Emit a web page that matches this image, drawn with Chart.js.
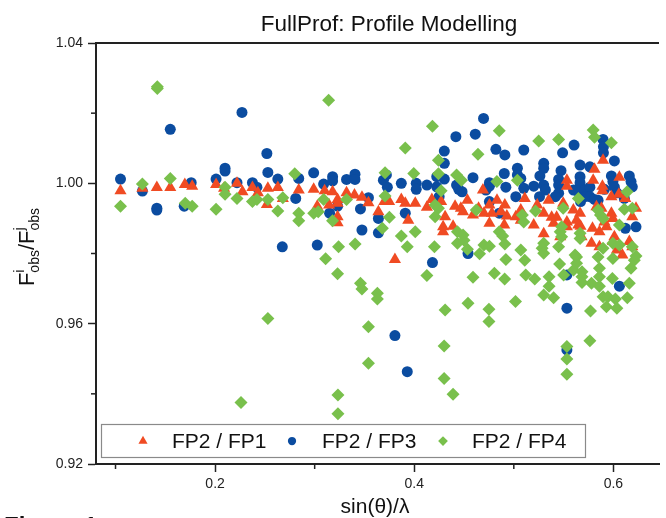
<!DOCTYPE html>
<html>
<head>
<meta charset="utf-8">
<script src="https://cdn.jsdelivr.net/npm/chart.js@4/dist/chart.umd.min.js"></script>
<style>
  html, body { margin: 0; padding: 0; background: #fff; }
  #wrap { width: 666px; height: 518px; position: relative; }
</style>
</head>
<body>
<div id="wrap"><canvas id="chart" width="666" height="518"></canvas></div>
<script>
// FP2 / FP1 (red triangles)
const fp1X = [0.105, 0.127, 0.1415, 0.155, 0.1696, 0.177, 0.201, 0.209, 0.222, 0.2275, 0.2375, 0.243, 0.252, 0.253, 0.263, 0.268,
  0.284, 0.299, 0.310, 0.318, 0.323, 0.323, 0.332, 0.340, 0.3475, 0.354, 0.3026, 0.3145, 0.323, 0.323, 0.364, 0.370, 0.3747, 0.387, 0.391, 0.401, 0.394, 0.3806,
  0.4127, 0.4177, 0.427, 0.441, 0.4468, 0.4534, 0.449, 0.459, 0.4646, 0.469, 0.470, 0.4755, 0.4831, 0.478, 0.487, 0.491, 0.493, 0.4755, 0.4904, 0.502, 0.431, 0.429, 0.429, 0.439,
  0.5533, 0.5533, 0.511, 0.535, 0.5235, 0.5496, 0.5598, 0.530, 0.538, 0.543, 0.5665, 0.520, 0.540, 0.5533, 0.5533, 0.563, 0.5648, 0.567, 0.530, 0.5466, 0.568, 0.507, 0.507,
  0.5896, 0.581, 0.5797, 0.606, 0.589, 0.589, 0.598, 0.6055, 0.612, 0.6227, 0.619, 0.583, 0.588, 0.598, 0.5995, 0.579, 0.586, 0.593, 0.591, 0.601, 0.5995, 0.578, 0.586, 0.616, 0.619, 0.6035, 0.609];
const fp1Y = [0.9979, 0.9986, 0.9988, 0.9988, 0.9997, 0.9992, 0.9997, 0.9986, 1.0000, 0.9976, 0.9988, 0.9973, 0.9940, 0.9986, 0.9988, 0.9957,
  0.9981, 0.9983, 0.9979, 0.9976, 0.9954, 0.9943, 0.9973, 0.9967, 0.9960, 0.9945, 0.9935, 0.9938, 0.9905, 0.9888, 0.9919, 0.9948, 0.9948, 0.9954, 0.9943, 0.9943, 0.9895, 0.9783,
  0.9932, 0.9954, 0.9948, 0.9935, 0.9929, 0.9952, 0.9919, 0.9910, 0.9929, 0.9981, 0.9915, 0.9938, 0.9952, 0.9915, 0.9919, 0.9938, 0.9907, 0.9886, 0.9881, 0.9905, 0.9905, 0.9876, 0.9862, 0.9878,
  1.0009, 0.9992, 0.9957, 0.9952, 0.9938, 0.9943, 0.9924, 0.9915, 0.9903, 0.9903, 0.9915, 0.9881, 0.9886, 0.9890, 0.9876, 0.9895, 0.9881, 0.9878, 0.9856, 0.9848, 0.9848, 0.9924, 0.9895,
  1.0066, 1.0040, 1.0009, 1.0017, 0.9992, 0.9979, 0.9962, 0.9969, 0.9957, 0.9929, 0.9905, 0.9933, 0.9929, 0.9915, 0.9900, 0.9872, 0.9862, 0.9876, 0.9890, 0.9848, 0.9834, 0.9829, 0.9819, 0.9834, 0.9819, 0.9810, 0.9796];

// FP2 / FP3 (blue circles)
const fp3X = [0.105, 0.155, 0.227, 0.127, 0.1415, 0.1415, 0.176, 0.169, 0.201, 0.210, 0.210, 0.222, 0.2375, 0.242, 0.252, 0.253, 0.263, 0.2675,
  0.299, 0.284, 0.309, 0.318, 0.318, 0.332, 0.3405, 0.3405, 0.281, 0.323, 0.315, 0.346, 0.354, 0.369, 0.373, 0.372, 0.387, 0.402, 0.402, 0.364, 0.3475, 0.364, 0.3026, 0.391,
  0.4183, 0.454, 0.3806, 0.393, 0.5533, 0.5533, 0.606, 0.5533,
  0.4696, 0.4418, 0.4613, 0.4302, 0.4302, 0.482, 0.491, 0.4904, 0.459, 0.4127, 0.4226, 0.4302, 0.4226, 0.4425, 0.4447, 0.448, 0.4755, 0.4755, 0.472, 0.492, 0.5036, 0.5036, 0.502, 0.425, 0.4755, 0.4854,
  0.5605, 0.549, 0.510, 0.530, 0.530, 0.5474, 0.5665, 0.5262, 0.507, 0.545, 0.545, 0.5665, 0.5665, 0.520, 0.530, 0.5317, 0.510, 0.545, 0.560, 0.563, 0.5714, 0.5714, 0.5258, 0.5417, 0.567,
  0.5896, 0.590, 0.590, 0.601, 0.5764, 0.598, 0.5995, 0.616, 0.6177, 0.619, 0.5764, 0.591, 0.601, 0.6035, 0.5764, 0.581, 0.5846, 0.611, 0.612, 0.6227];
const fp3Y = [1.0012, 1.0154, 1.0202, 0.9978, 0.9929, 0.9924, 1.0002, 0.9935, 1.0012, 1.0043, 1.0035, 1.0002, 1.0002, 0.9989, 1.0085, 1.0031, 1.0012, 0.9819,
  1.0030, 1.0014, 0.9998, 1.0019, 1.0007, 1.0011, 1.0026, 1.0011, 0.9957, 0.9935, 0.9915, 0.9927, 0.9959, 1.0009, 0.9989, 1.0024, 1.0000, 1.0000, 0.9983, 0.9900, 0.9867, 0.9859, 0.9824, 0.9915,
  0.9774, 0.9800, 0.9566, 0.9463, 0.9644, 0.9525, 0.9707, 0.9739,
  1.0185, 1.0133, 1.0140, 1.0092, 1.0057, 1.0097, 1.0081, 1.0028, 1.0016, 0.9995, 1.0019, 1.0012, 0.9990, 0.9995, 0.9983, 0.9976, 1.0002, 0.9992, 0.9981, 0.9989, 1.0043, 1.0024, 0.9962, 0.9962, 0.9948, 0.9915,
  1.0109, 1.0087, 1.0095, 1.0057, 1.0043, 1.0036, 1.0052, 1.0021, 1.0014, 1.0011, 0.9995, 1.0019, 1.0002, 0.9992, 0.9995, 0.9981, 0.9986, 0.9972, 0.9981, 0.9979, 0.9981, 0.9962, 0.9962, 0.9962, 0.9948,
  1.0125, 1.0104, 1.0087, 1.0064, 1.0047, 1.0021, 1.0005, 1.0021, 1.0005, 0.9990, 0.9989, 0.9983, 0.9989, 0.9973, 0.9962, 0.9954, 0.9952, 0.9957, 0.9872, 0.9876];

// FP2 / FP4 (green diamonds)
const fp4X = [0.142, 0.142, 0.226, 0.253, 0.314, 0.105, 0.127, 0.155, 0.170, 0.177, 0.201, 0.210, 0.210, 0.222, 0.2375, 0.242, 0.253, 0.263, 0.268, 0.280,
  0.391, 0.284, 0.284, 0.299, 0.3036, 0.309, 0.318, 0.332, 0.3707, 0.3707, 0.375, 0.368, 0.387, 0.393, 0.3995, 0.401, 0.324, 0.3406, 0.311,
  0.323, 0.346, 0.3475, 0.363, 0.363, 0.354, 0.354, 0.3234, 0.3234, 0.4127, 0.431, 0.430, 0.430, 0.439, 0.454, 0.459, 0.475, 0.475, 0.4805, 0.4908, 0.492, 0.5017, 0.511, 0.512, 0.521, 0.530, 0.540, 0.5354, 0.5354, 0.546, 0.550,
  0.5533, 0.5533, 0.5533, 0.5764, 0.577, 0.563, 0.563, 0.560, 0.5685, 0.5685, 0.5685, 0.578, 0.586, 0.586, 0.586, 0.5896, 0.5945, 0.593, 0.599, 0.602, 0.6035, 0.5995, 0.614, 0.616, 0.6177, 0.621, 0.5846,
  0.4183, 0.4854, 0.464, 0.4243, 0.4243, 0.4425, 0.4474, 0.483, 0.5036, 0.427, 0.421, 0.4243, 0.421, 0.4623, 0.4434, 0.449, 0.4434, 0.450, 0.4203, 0.4534, 0.470, 0.4755, 0.4656, 0.4854, 0.4888, 0.491, 0.507,
  0.525, 0.545, 0.5648, 0.5218, 0.5496, 0.5086, 0.510, 0.548, 0.5466, 0.548, 0.5665, 0.5665, 0.530, 0.5284, 0.530, 0.545, 0.5615,
  0.5797, 0.581, 0.598, 0.6137, 0.611, 0.619, 0.5846, 0.587, 0.5896, 0.606, 0.5995, 0.606, 0.619, 0.5896, 0.6227];
const fp4Y = [1.0275, 1.0270, 0.9375, 0.9615, 1.0237, 0.9935, 0.9998, 1.0014, 0.9943, 0.9935, 0.9926, 0.9989, 0.9969, 0.9957, 0.9948, 0.9954, 0.9954, 0.9921, 0.9959, 1.0027,
  1.0101, 0.9915, 0.9893, 0.9915, 0.9919, 0.9954, 0.9893, 0.9954, 1.0030, 0.9964, 0.9903, 0.9872, 0.9850, 0.9819, 1.0028, 0.9862, 0.9819, 0.9827, 0.9785,
  0.9742, 0.9715, 0.9699, 0.9687, 0.9670, 0.9591, 0.9487, 0.9397, 0.9343, 0.9737, 0.9639, 0.9536, 0.9444, 0.9399, 0.9658, 0.9732, 0.9641, 0.9606, 0.9744, 0.9727, 0.9783, 0.9663, 0.9781, 0.9739, 0.9727, 0.9682, 0.9674, 0.9734, 0.9707, 0.9770, 0.9739,
  0.9535, 0.9499, 0.9456, 0.9551, 0.9636, 0.9790, 0.9772, 0.9753, 0.9748, 0.9734, 0.9717, 0.9715, 0.9758, 0.9734, 0.9707, 0.9677, 0.9677, 0.9648, 0.9729, 0.9670, 0.9644, 0.9786, 0.9674, 0.9715, 0.9758, 0.9781, 0.9790,
  1.0163, 1.0150, 1.0083, 1.0066, 1.0027, 1.0024, 1.0009, 1.0005, 1.0009, 0.9979, 0.9938, 0.9929, 0.9905, 0.9924, 0.9862, 0.9853, 0.9829, 0.9838, 0.9819, 0.9812, 0.9824, 0.9821, 0.9799, 0.9862, 0.9850, 0.9827, 0.9810,
  1.0121, 1.0125, 0.9957, 0.9921, 0.9929, 0.9910, 0.9890, 0.9876, 0.9862, 0.9848, 0.9858, 0.9843, 0.9829, 0.9815, 0.9801, 0.9819, 0.9796,
  1.0152, 1.0131, 1.0116, 0.9976, 0.9926, 0.9929, 0.9924, 0.9910, 0.9900, 0.9881, 0.9829, 0.9824, 0.9819, 0.9815, 0.9793];

const seriesNames = ['FP2 / FP1', 'FP2 / FP3', 'FP2 / FP4'];
const xTicks = [0.1, 0.2, 0.3, 0.4, 0.5, 0.6];
const xLabels = ['', '0.2', '', '0.4', '', '0.6'];
const yTicks = [0.92, 0.94, 0.96, 0.98, 1.00, 1.02, 1.04];
const yLabels = ['0.92', '', '0.96', '', '1.00', '', '1.04'];

const RED = '#F04B23';
const BLUE = '#0B4CA0';
const GREEN = '#79C04C';
const AXIS = '#222';

function toPoints(xs, ys) {
    return xs.map((x, i) => ({ x: x, y: ys[i] }));
}

const pointStyles = [
    { style: 'triangle', radius: 7, color: RED },
    { style: 'circle', radius: 5.5, color: BLUE },
    { style: 'rectRot', radius: 6.5, color: GREEN }
];

// minor ticks, frame top, titles and the boxed legend
const decorations = {
    id: 'decorations',
    afterDraw(chart) {
        const ctx = chart.ctx;
        const area = chart.chartArea;
        const xs = chart.scales.x;
        const ys = chart.scales.y;
        ctx.save();

        // top frame line
        ctx.strokeStyle = AXIS;
        ctx.lineWidth = 2;
        ctx.beginPath();
        ctx.moveTo(area.left - 1, area.top);
        ctx.lineTo(area.right, area.top);
        ctx.stroke();

        // minor ticks
        ctx.lineWidth = 1.5;
        xTicks.forEach((v, i) => {
            if (xLabels[i]) return;
            const px = xs.getPixelForValue(v);
            ctx.beginPath();
            ctx.moveTo(px, area.bottom);
            ctx.lineTo(px, area.bottom + 5);
            ctx.stroke();
        });
        yTicks.forEach((v, i) => {
            if (yLabels[i]) return;
            const py = ys.getPixelForValue(v);
            ctx.beginPath();
            ctx.moveTo(area.left, py);
            ctx.lineTo(area.left - 5, py);
            ctx.stroke();
        });

        // title
        ctx.fillStyle = '#111';
        ctx.textBaseline = 'alphabetic';
        ctx.textAlign = 'center';
        ctx.font = '22.5px "Liberation Sans", Arial, sans-serif';
        ctx.fillText('FullProf: Profile Modelling', 389, 31);

        // x axis title
        ctx.font = '21px "Liberation Sans", Arial, sans-serif';
        ctx.fillText('sin(\u03B8)/\u03BB', 375, 513);

        // y axis title with super/subscripts
        ctx.save();
        ctx.translate(34, 247);
        ctx.rotate(-Math.PI / 2);
        ctx.textAlign = 'left';
        const big = '22px "Liberation Sans", Arial, sans-serif';
        const small = '14px "Liberation Sans", Arial, sans-serif';
        const parts = [
            ['F', big, 0, true], ['i', small, -10, false], ['obs', small, 5, true],
            ['/', big, 0, true], ['F', big, 0, true], ['j', small, -10, false], ['obs', small, 5, true]
        ];
        let total = 0;
        parts.forEach(p => { ctx.font = p[1]; if (p[3]) total += ctx.measureText(p[0]).width; });
        let cx = -total / 2;
        parts.forEach(p => {
            ctx.font = p[1];
            ctx.fillText(p[0], cx, p[2]);
            if (p[3]) cx += ctx.measureText(p[0]).width;
        });
        ctx.restore();

        // figure caption (cut at the bottom edge)
        ctx.textAlign = 'left';
        ctx.font = 'bold 24px "Liberation Sans", Arial, sans-serif';
        ctx.fillText('Figure 1', 4, 534);

        // legend box
        ctx.fillStyle = '#fff';
        ctx.fillRect(101, 424, 484, 33);
        ctx.strokeStyle = '#8a8a8a';
        ctx.lineWidth = 1.2;
        ctx.strokeRect(101.5, 424.5, 484, 33);
        const markerX = [143, 292, 443];
        const textX = [172, 322, 472];
        ctx.font = '21px "Liberation Sans", Arial, sans-serif';
        ctx.textBaseline = 'middle';
        seriesNames.forEach((name, i) => {
            const ps = pointStyles[i];
            ctx.fillStyle = ps.color;
            Chart.helpers.drawPoint(ctx, { pointStyle: ps.style, radius: ps.radius * 0.75, rotation: 0, borderWidth: 0 }, markerX[i], 441);
            ctx.fillStyle = '#111';
            ctx.fillText(name, textX[i], 442);
        });

        ctx.restore();
    }
};

const datasets = [
    { label: seriesNames[0], data: toPoints(fp1X, fp1Y), order: 1 },
    { label: seriesNames[1], data: toPoints(fp3X, fp3Y), order: 2 },
    { label: seriesNames[2], data: toPoints(fp4X, fp4Y), order: 0 }
].map((d, i) => Object.assign(d, {
    pointStyle: pointStyles[i].style,
    pointRadius: pointStyles[i].radius,
    backgroundColor: pointStyles[i].color,
    borderColor: pointStyles[i].color,
    pointBorderWidth: 0,
    showLine: false
}));

const tickFont = { family: '"Liberation Sans", Arial, sans-serif', size: 14 };

new Chart(document.getElementById('chart'), {
    type: 'scatter',
    data: { datasets: datasets },
    options: {
        responsive: false,
        animation: false,
        events: [],
        layout: { padding: { top: 43, right: 0, bottom: 0, left: 0 } },
        plugins: {
            legend: { display: false },
            tooltip: { enabled: false },
            title: { display: false }
        },
        scales: {
            x: {
                type: 'linear',
                min: 0.0804,
                max: 0.6458,
                afterBuildTicks: s => { s.ticks = xTicks.map(v => ({ value: v })); },
                afterFit: s => { s.height = 54; },
                ticks: {
                    autoSkip: false,
                    maxRotation: 0,
                    padding: 4,
                    color: '#222',
                    font: tickFont,
                    callback: (v, i) => xLabels[i]
                },
                grid: {
                    drawOnChartArea: false,
                    tickLength: 8,
                    tickWidth: 1.5,
                    tickColor: c => xLabels[c.index] ? AXIS : 'rgba(0,0,0,0)'
                },
                border: { color: AXIS, width: 2 }
            },
            y: {
                type: 'linear',
                min: 0.92,
                max: 1.04,
                afterBuildTicks: s => { s.ticks = yTicks.map(v => ({ value: v })); },
                afterFit: s => { s.width = 96; },
                ticks: {
                    autoSkip: false,
                    padding: 5,
                    color: '#222',
                    font: tickFont,
                    callback: (v, i) => yLabels[i]
                },
                grid: {
                    drawOnChartArea: false,
                    tickLength: 8,
                    tickWidth: 1.5,
                    tickColor: c => yLabels[c.index] ? AXIS : 'rgba(0,0,0,0)'
                },
                border: { color: AXIS, width: 2 }
            }
        }
    },
    plugins: [decorations]
});
</script>
</body>
</html>
